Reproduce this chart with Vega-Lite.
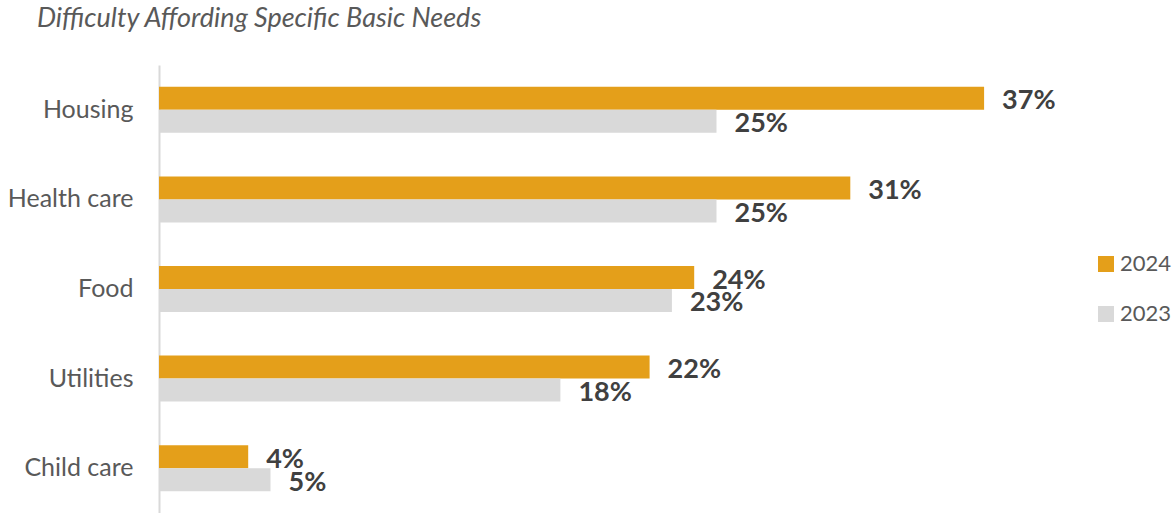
{
  "$schema": "https://vega.github.io/schema/vega-lite/v6.json",
  "autosize": {"type": "none"},
  "width": 892,
  "height": 448,
  "padding": {"left": 159, "top": 65, "right": 125, "bottom": 0},
  "background": "white",
  "config": {"view": {"stroke": null}, "font": "Lato"},
  "title": {
    "text": "Difficulty Affording Specific Basic Needs",
    "anchor": "start",
    "frame": "group",
    "dx": -122,
    "offset": 32,
    "font": "Lato",
    "fontStyle": "italic",
    "fontWeight": "normal",
    "fontSize": 27,
    "color": "#595959"
  },
  "data": {
    "values": [
      {"need": "Housing", "year": "2024", "value": 0.37},
      {"need": "Housing", "year": "2023", "value": 0.25},
      {"need": "Health care", "year": "2024", "value": 0.31},
      {"need": "Health care", "year": "2023", "value": 0.25},
      {"need": "Food", "year": "2024", "value": 0.24},
      {"need": "Food", "year": "2023", "value": 0.23},
      {"need": "Utilities", "year": "2024", "value": 0.22},
      {"need": "Utilities", "year": "2023", "value": 0.18},
      {"need": "Child care", "year": "2024", "value": 0.04},
      {"need": "Child care", "year": "2023", "value": 0.05}
    ]
  },
  "encoding": {
    "y": {
      "field": "need",
      "type": "nominal",
      "sort": ["Housing", "Health care", "Food", "Utilities", "Child care"],
      "scale": {"paddingInner": 0.487, "paddingOuter": 0.2435},
      "axis": {
        "title": null,
        "domain": true,
        "domainColor": "#D9D9D9",
        "domainWidth": 2,
        "ticks": false,
        "labelFontSize": 25,
        "labelColor": "#595959",
        "labelPadding": 26,
        "labelFont": "Lato"
      }
    },
    "yOffset": {
      "field": "year",
      "type": "nominal",
      "sort": ["2024", "2023"],
      "scale": {"paddingInner": 0, "paddingOuter": 0}
    },
    "x": {
      "field": "value",
      "type": "quantitative",
      "scale": {"domain": [0, 0.4], "nice": false},
      "axis": null
    }
  },
  "layer": [
    {
      "mark": {"type": "bar"},
      "encoding": {
        "color": {
          "field": "year",
          "type": "nominal",
          "sort": ["2024", "2023"],
          "scale": {"domain": ["2024", "2023"], "range": ["#E49F1A", "#D9D9D9"]},
          "legend": {
            "title": null,
            "orient": "none",
            "legendX": 936,
            "legendY": 188,
            "symbolType": "square",
            "symbolSize": 256,
            "symbolStrokeWidth": 0,
            "labelFontSize": 22,
            "labelColor": "#595959",
            "labelFont": "Lato",
            "rowPadding": 28,
            "labelOffset": 3
          }
        }
      }
    },
    {
      "mark": {
        "type": "text",
        "align": "left",
        "baseline": "middle",
        "dx": 18,
        "dy": 3,
        "fontSize": 27,
        "fontWeight": "bold",
        "color": "#404040",
        "font": "Lato"
      },
      "encoding": {
        "text": {"field": "value", "type": "quantitative", "format": ".0%"}
      }
    }
  ]
}
